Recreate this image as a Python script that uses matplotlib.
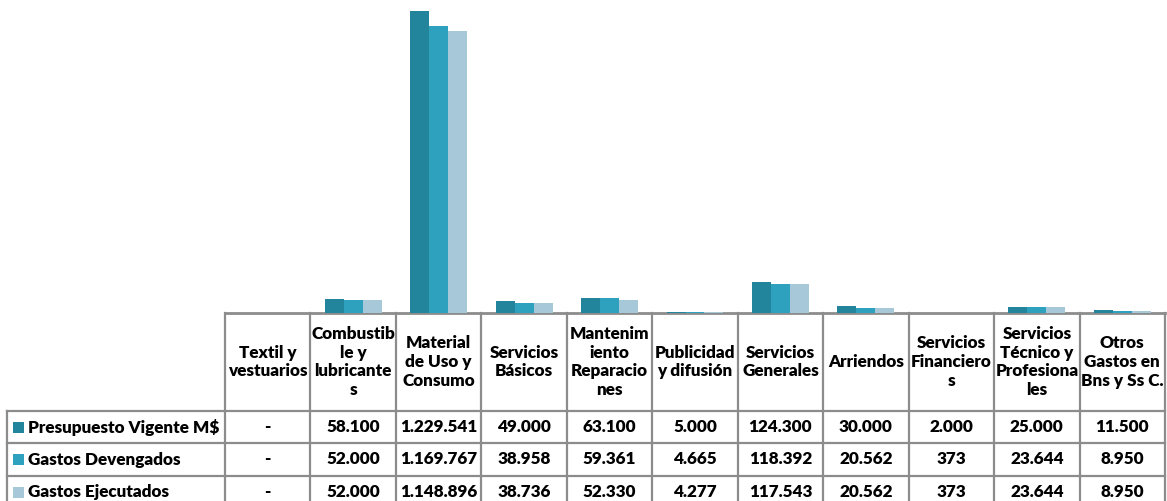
import matplotlib

matplotlib.use("Agg")
import matplotlib.pyplot as plt
import numpy as np
from matplotlib.patches import Rectangle

plt.rcParams["font.family"] = ["Lato", "DejaVu Sans"]

# ---------------------------------------------------------------
# Data (M$)
# ---------------------------------------------------------------
categories = [
    "Textil y\nvestuarios",
    "Combustib\nle y\nlubricante\ns",
    "Material\nde Uso y\nConsumo",
    "Servicios\nBásicos",
    "Mantenim\niento\nReparacio\nnes",
    "Publicidad\ny difusión",
    "Servicios\nGenerales",
    "Arriendos",
    "Servicios\nFinanciero\ns",
    "Servicios\nTécnico y\nProfesiona\nles",
    "Otros\nGastos en\nBns y Ss C.",
]
series_names = ["Presupuesto Vigente M$", "Gastos Devengados", "Gastos Ejecutados"]
presupuesto = [0, 58100, 1229541, 49000, 63100, 5000, 124300, 30000, 2000, 25000, 11500]
devengados = [0, 52000, 1169767, 38958, 59361, 4665, 118392, 20562, 373, 23644, 8950]
ejecutados = [0, 52000, 1148896, 38736, 52330, 4277, 117543, 20562, 373, 23644, 8950]
colors = ["#22859B", "#2EA1BE", "#A6C8D8"]
grid_color = "#8C8C8C"


def fmt(v):
    if v == 0:
        return "-"
    return f"{v:,}".replace(",", ".")


W, H = 1167, 501
fig = plt.figure(figsize=(W / 100, H / 100), dpi=100)

# pixel layout
ax_left, ax_right, ax_bottom = 225, 1165, 313
row_edges = [313, 411, 443, 476, 508]
legend_left = 7
fs = 12.3

ax = fig.add_axes([ax_left / W, 1 - ax_bottom / H, (ax_right - ax_left) / W, ax_bottom / H])
n = len(categories)
x = np.arange(n)
bw = 0.222
for i, vals in enumerate([presupuesto, devengados, ejecutados]):
    ax.bar(x + (i - 1) * bw, vals, width=bw, color=colors[i], edgecolor="none")
ax.set_xlim(-0.5, n - 0.5)
ax.set_ylim(0, max(presupuesto) * 313 / 302)
ax.axis("off")

# ---------------------------------------------------------------
# Data table drawn in pixel coordinates
# ---------------------------------------------------------------
tab = fig.add_axes([0, 0, 1, 1], zorder=-1)
tab.set_xlim(0, W)
tab.set_ylim(H, 0)
tab.axis("off")

col_w = (ax_right - ax_left) / n
col_edges = [ax_left + k * col_w for k in range(n + 1)]

lw = 1.6
# horizontal lines
tab.plot([ax_left, ax_right], [row_edges[0]] * 2, color=grid_color, lw=2.0)
for y in row_edges[1:]:
    tab.plot([legend_left, ax_right], [y, y], color=grid_color, lw=lw)
# vertical lines
for xe in col_edges:
    tab.plot([xe, xe], [row_edges[0], H + 5], color=grid_color, lw=lw)
tab.plot([legend_left, legend_left], [row_edges[1], H + 5], color=grid_color, lw=lw)

# header texts
for k, cat in enumerate(categories):
    xc = (col_edges[k] + col_edges[k + 1]) / 2
    yc = (row_edges[0] + row_edges[1]) / 2
    tab.text(xc, yc, cat, ha="center", va="center", fontsize=fs,
             fontweight="heavy", linespacing=1.22, color="black")

# rows
for r, (name, vals) in enumerate(zip(series_names, [presupuesto, devengados, ejecutados])):
    yc = (row_edges[r + 1] + row_edges[r + 2]) / 2
    tab.add_patch(Rectangle((13, yc - 5.5), 11, 11, color=colors[r], lw=0))
    tab.text(28, yc, name, ha="left", va="center", fontsize=fs,
             fontweight="heavy", color="black")
    for k, v in enumerate(vals):
        xc = (col_edges[k] + col_edges[k + 1]) / 2
        tab.text(xc, yc, fmt(v), ha="center", va="center", fontsize=fs,
                 fontweight="heavy", color="black")

fig.savefig("out.png", dpi=100)
